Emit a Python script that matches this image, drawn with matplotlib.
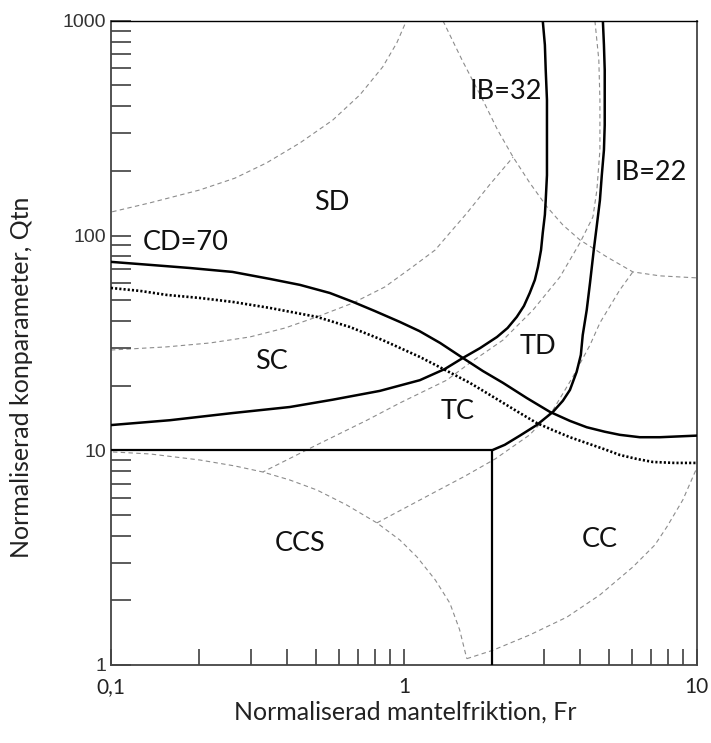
import numpy as np
import matplotlib
matplotlib.use("Agg")
import matplotlib.pyplot as plt
from matplotlib.ticker import LogLocator, NullFormatter, FixedLocator, FixedFormatter

# solid boundaries (Fr, Qtn)
cd70_fr = [0.1, 0.136, 0.186, 0.260, 0.349, 0.442, 0.559, 0.670, 0.796, 0.969, 1.13, 1.33, 1.59,
           1.86, 2.18, 2.63, 3.15, 3.69, 4.21, 4.85, 5.46, 6.39, 7.48, 10]
cd70_q = [75.4, 73.0, 70.6, 67.7, 62.8, 58.9, 54.0, 49.1, 44.5, 39.6, 35.9, 31.6, 26.9,
          23.4, 20.6, 17.5, 15.1, 13.7, 12.8, 12.2, 11.8, 11.5, 11.5, 11.7]

dot_fr = [0.1, 0.126, 0.155, 0.201, 0.260, 0.349, 0.505, 0.654, 0.846, 1.134, 1.38, 1.68, 2.05,
          2.49, 2.84, 3.23, 3.69, 4.21, 4.85, 5.46, 6.24, 7.08, 8.41, 10]
dot_q = [57.0, 55.2, 52.9, 51.2, 49.1, 46.0, 41.8, 37.5, 32.6, 27.2, 23.7, 20.6, 17.5,
         14.9, 13.4, 12.4, 11.5, 10.8, 10.1, 9.51, 9.11, 8.82, 8.73, 8.73]

ib32_fr = [0.1, 0.159, 0.260, 0.408, 0.572, 0.828, 1.134, 1.38, 1.59, 1.82, 2.08, 2.26, 2.43, 2.57,
           2.69, 2.80, 2.87, 2.94, 2.98, 3.03, 3.05, 3.08, 3.08, 3.08, 3.05, 3.03, 2.98]
ib32_q = [13.1, 13.8, 14.9, 15.9, 17.2, 18.9, 21.2, 23.9, 26.9, 29.9, 33.7, 37.1, 41.8, 47.0,
          54.0, 62.1, 71.4, 85.7, 103, 125, 146, 191, 250, 428, 590, 772, 1000]

ib22_fr = [2.0, 2.21, 2.49, 2.84, 3.23, 3.49, 3.69, 3.89, 4.02, 4.08, 4.21, 4.32, 4.45, 4.56,
           4.67, 4.74, 4.82, 4.85, 4.85, 4.85, 4.82, 4.78]
ib22_q = [10, 10.6, 11.7, 13.1, 15.1, 17.0, 19.1, 23.2, 27.8, 34.4, 45.0, 60.1, 85.7, 112,
          146, 191, 250, 327, 428, 590, 772, 1000]

box_fr = [0.1, 2.0, 2.0]
box_q = [10, 10, 1]

# thin dashed guide arcs
arc_a = ([0.101, 0.136, 0.201, 0.265, 0.340, 0.442, 0.572, 0.708, 0.847, 0.946, 1.02],
         [129, 142, 163, 185, 218, 270, 345, 452, 610, 789, 1000])
arc_b = ([1.36, 1.58, 1.86, 2.09, 2.36, 2.69, 3.08, 3.49, 3.99, 4.93, 6.05, 7.48, 10],
         [1000, 657, 428, 310, 232, 176, 136, 112, 95.4, 79.5, 67.7, 64.9, 63.5])
arc_c = ([4.49, 4.63, 4.67, 4.67, 4.56, 4.42, 3.99, 3.41, 2.76, 2.18, 1.68, 1.40, 0.969, 0.748, 0.505, 0.330],
         [1000, 657, 428, 250, 163, 122, 92.4, 64.1, 45.0, 32.6, 25.5, 21.2, 16.6, 13.8, 10.6, 7.92])
arc_d = ([0.1, 0.155, 0.218, 0.298, 0.393, 0.505, 0.670, 0.861, 1.07, 1.28, 1.436, 1.64, 1.96, 2.36],
         [29.3, 30.3, 31.6, 33.7, 37.1, 41.8, 48.5, 57.6, 71.4, 85.7, 103, 127, 172, 232])
arc_e = ([0.809, 1.01, 1.26, 1.62, 2.05, 2.69, 3.23, 3.77, 4.32, 4.67, 5.46, 6.05],
         [4.59, 5.39, 6.33, 7.59, 9.11, 11.8, 15.4, 21.9, 30.9, 39.2, 55.8, 67.7])
arc_f = ([0.1016, 0.136, 0.201, 0.265, 0.330, 0.408, 0.505, 0.638, 0.809, 0.969, 1.11, 1.28, 1.436, 1.55, 1.64],
         [9.82, 9.61, 9.01, 8.45, 7.92, 7.27, 6.53, 5.56, 4.59, 3.82, 3.18, 2.49, 1.94, 1.46, 1.07])
arc_g = ([1.64, 2.01, 2.69, 3.60, 4.67, 6.05, 7.19, 7.90, 8.96, 10],
         [1.07, 1.17, 1.38, 1.67, 2.12, 2.86, 3.62, 4.39, 5.87, 8.27])
arcs = [arc_a, arc_b, arc_c, arc_d, arc_e, arc_f, arc_g]

labels = ["IB=32", "IB=22", "SD", "CD=70", "SC", "TD", "TC", "CCS", "CC"]
label_fr = [2.23, 6.97, 0.568, 0.180, 0.354, 2.87, 1.53, 0.442, 4.67]
label_q = [467, 196, 142, 92.4, 25.8, 30.3, 15.1, 3.66, 3.86]

fig = plt.figure(figsize=(7.11, 7.43), dpi=100)
ax = fig.add_axes([0.156, 0.105, 0.824, 0.867])
ax.set_xscale("log")
ax.set_yscale("log")
ax.set_xlim(0.1, 10)
ax.set_ylim(1, 1000)

for fr, q in arcs:
    ax.plot(fr, q, color="#8c8c8c", lw=0.8, ls=(0, (4, 3)), zorder=1)

solid = dict(color="black", lw=1.8, zorder=3, solid_joinstyle="round", solid_capstyle="round")
ax.plot(cd70_fr, cd70_q, **solid)
ax.plot(ib32_fr, ib32_q, **solid)
ax.plot(ib22_fr, ib22_q, **solid)
ax.plot(dot_fr, dot_q, color="black", lw=1.9, ls=(0, (0.8, 0.8)), zorder=3)
ax.plot(box_fr, box_q, color="black", lw=1.6, zorder=3)

for s, fr, q in zip(labels, label_fr, label_q):
    ax.text(fr, q, s, ha="center", va="center", fontsize=19.5, family="Lato", color="#111111")

# ticks
ax.xaxis.set_major_locator(FixedLocator([0.1, 1, 10]))
ax.xaxis.set_major_formatter(FixedFormatter(["0,1", "1", "10"]))
ax.yaxis.set_major_locator(FixedLocator([1, 10, 100, 1000]))
ax.yaxis.set_major_formatter(FixedFormatter(["1", "10", "100", "1000"]))
for a in (ax.xaxis, ax.yaxis):
    a.set_minor_locator(LogLocator(base=10, subs=np.arange(2, 10)))
    a.set_minor_formatter(NullFormatter())

ax.tick_params(axis="y", which="both", direction="in", length=14.5, width=1.2,
               color="#404040", pad=3.5, labelsize=14, labelcolor="#333333")
ax.tick_params(axis="x", which="both", direction="in", length=11.5, width=1.2,
               color="#404040", pad=9, labelsize=15, labelcolor="#222222")
for t in ax.get_yticklabels():
    t.set_family("Liberation Sans")
for t in ax.get_xticklabels():
    t.set_family("Lato")

for sp in ax.spines.values():
    sp.set_color("#444444")
    sp.set_linewidth(1.3)
ax.spines["top"].set_color("black")
ax.spines["top"].set_linewidth(1.0)

ax.set_xlabel("Normaliserad mantelfriktion, Fr", fontsize=18, family="Lato", color="#222222")
ax.set_ylabel("Normaliserad konparameter, Qtn", fontsize=18, family="Lato", color="#222222")
ax.xaxis.set_label_coords(0.503, -0.055)
ax.yaxis.set_label_coords(-0.133, 0.447)

fig.savefig("out.png", dpi=100)
